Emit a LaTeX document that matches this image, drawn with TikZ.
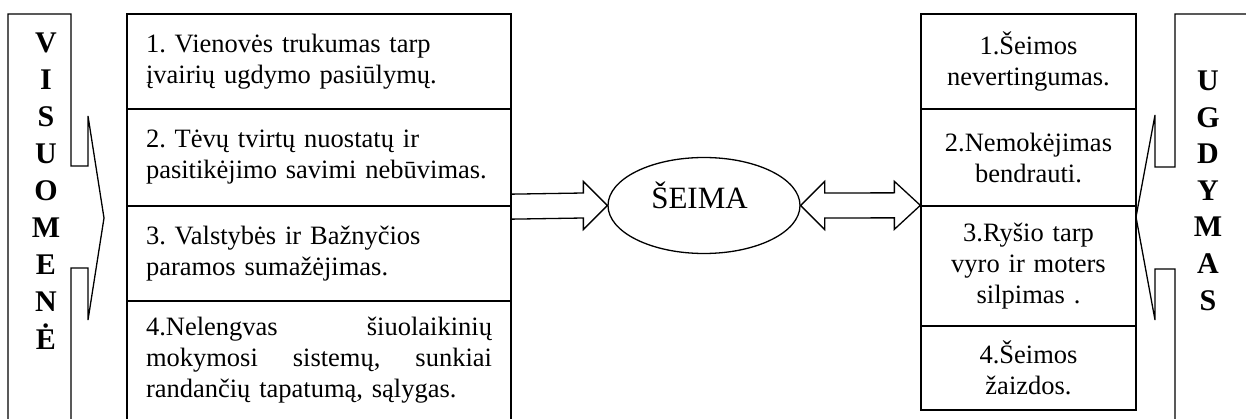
\documentclass[tikz,border=0pt]{standalone}
\usepackage{fontspec}
\setmainfont{Liberation Serif}
\usetikzlibrary{shapes.geometric,calc}

\begin{document}
\begin{tikzpicture}[x=1pt, y=-1pt, line width=1.3pt,
    box/.style={draw, inner ysep=0pt, font=\fontsize{26.5}{31}\selectfont\frenchspacing},
    leftbox/.style={box, text width=346pt, inner xsep=19pt, minimum width=384pt, align=left},
    rightbox/.style={box, text width=205pt, inner xsep=5pt, minimum width=215pt, align=center},
    letter/.style={font=\fontsize{30}{30}\selectfont\bfseries, anchor=base, inner sep=0pt}]

    \clip (0,0) rectangle (1246,419);

    % Society bracket with arrow (left)
    \draw (8,430) -- (8,14) -- (71,14) -- (71,166) -- (88,166) -- (88,116) -- (104,218)
          -- (88,320) -- (88,268) -- (71,268) -- (71,430);
    \foreach \ch [count=\i from 0] in {V,I,S,U,O,M,E,N,Ė} {
        \node[letter] (vis\i) at (46,53+37*\i) {\ch};
    }

    % Problems of society
    \node[leftbox, minimum height=95pt] (l1) at (319,61.5)
        {1. Vienovės trukumas tarp\\ įvairių ugdymo pasiūlymų.};
    \node[leftbox, minimum height=97pt] (l2) at (319,157.5)
        {2. Tėvų tvirtų nuostatų ir\\ pasitikėjimo savimi nebūvimas.};
    \node[leftbox, minimum height=95pt] (l3) at (319,253.5)
        {3. Valstybės ir Bažnyčios\\ paramos sumažėjimas.};
    \node[leftbox, minimum height=119pt] (l4) at (319,360.5)
        {4.Nelengvas\hfill šiuolaikinių\\ mokymosi\hfill sistemų,\hfill sunkiai\\ randančių tapatumą, sąlygas.};

    % Family in the middle
    \node[draw, ellipse, minimum width=192pt, minimum height=96pt, inner sep=0pt] (seima) at (704,205.5) {};
    \node[font=\fontsize{31}{31}\selectfont, anchor=base, inner sep=0pt] (seimatxt) at (699.5,209) {ŠEIMA};

    % Problems of upbringing
    \node[rightbox, minimum height=95pt] (r1) at (1028.5,61.5)
        {1.Šeimos\\ nevertingumas.};
    \node[rightbox, minimum height=97pt] (r2) at (1028.5,157.5)
        {2.Nemokėjimas\\ bendrauti.};
    \node[rightbox, minimum height=120pt] (r3) at (1028.5,266)
        {3.Ryšio tarp\\ vyro ir moters\\ silpimas .};
    \node[rightbox, minimum height=84pt] (r4) at (1028.5,368)
        {4.Šeimos\\ žaizdos.};

    % Block arrow society -> family
    \draw ($(l2.south east)+(0,-12.5)$) -- ($(seima.west)+(-24,-12.5)$) -- ($(seima.west)+(-24,-24)$)
          -- (seima.west) -- ($(seima.west)+(-24,24)$) -- ($(seima.west)+(-24,12.5)$)
          -- ($(l2.south east)+(0,12.5)$);

    % Double block arrow family <-> upbringing
    \draw (seima.east) -- ($(seima.east)+(24,-24)$) -- ($(seima.east)+(24,-12.5)$)
          -- ($(r3.north west)+(-26,-12.5)$) -- ($(r3.north west)+(-26,-24)$) -- (r3.north west)
          -- ($(r3.north west)+(-26,24)$) -- ($(r3.north west)+(-26,12.5)$)
          -- ($(seima.east)+(24,12.5)$) -- ($(seima.east)+(24,24)$) -- cycle;

    % Upbringing bracket with arrow (right)
    \draw (1250,14) -- (1175,14) -- (1175,167) -- (1155,167) -- (1155,115) -- (1136,217)
          -- (1155,320) -- (1155,269) -- (1175,269) -- (1175,430);
    \foreach \ch [count=\i from 0] in {U,G,D,Y,M,A,S} {
        \node[letter] (ugd\i) at (1208,91+36.5*\i) {\ch};
    }

\end{tikzpicture}
\end{document}
